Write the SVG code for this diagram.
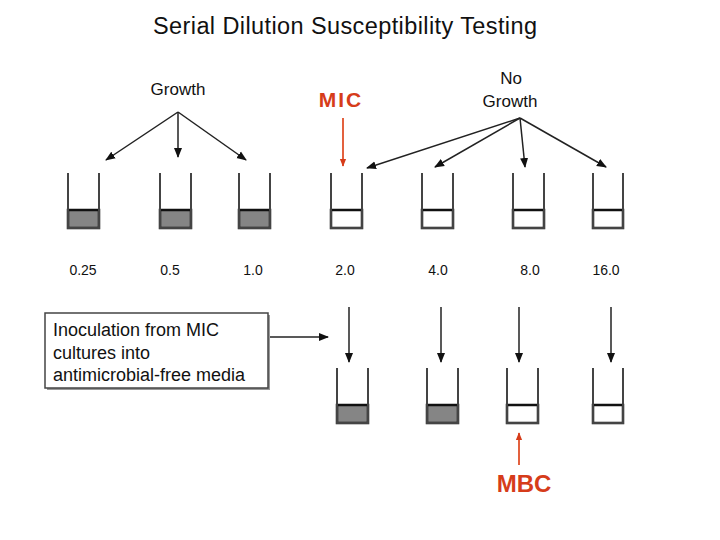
<svg xmlns="http://www.w3.org/2000/svg" width="720" height="540" viewBox="0 0 720 540">
<style>
text{font-family:"Liberation Sans",Arial,sans-serif;fill:#111}
.title{font-size:23.5px}
.lbl{font-size:17px}
.num{font-size:14px}
.red{fill:#d63c1a;font-weight:bold}
.side{fill:none;stroke:#444;stroke-width:2}
.liq{stroke:#111;stroke-width:2.5}
.g{fill:#858585}
.w{fill:#fff}
.arr{stroke:#222;stroke-width:1.5;fill:none;marker-end:url(#ah)}
.arrR{stroke:#e0502a;stroke-width:1.8;fill:none;marker-end:url(#ahR)}
.box{font-size:18px}
</style>
<defs>
<marker id="ah" markerUnits="userSpaceOnUse" markerWidth="10" markerHeight="10" viewBox="0 0 10 10" refX="9" refY="5" orient="auto">
<path d="M0,1 L10,5 L0,9 Z" fill="#111"/>
</marker>
<marker id="ahR" markerUnits="userSpaceOnUse" markerWidth="8" markerHeight="8" viewBox="0 0 10 10" refX="9" refY="5" orient="auto">
<path d="M0,1 L10,5 L0,9 Z" fill="#d63c1a"/>
</marker>
</defs>
<rect width="720" height="540" fill="#fff"/>
<g id="title"><text class="title" x="153" y="34" textLength="384" lengthAdjust="spacing">Serial Dilution Susceptibility Testing</text></g>
<g id="growth"><text class="lbl" x="178" y="95" text-anchor="middle">Growth</text></g>
<g id="nogrowth"><text class="lbl" x="511" y="84" text-anchor="middle">No</text><text class="lbl" x="510" y="107" text-anchor="middle">Growth</text></g>
<g id="mic"><text class="red" x="341" y="107" font-size="21" letter-spacing="2" text-anchor="middle">MIC</text></g>
<g id="mbc"><text class="red" x="524" y="492" font-size="24" text-anchor="middle">MBC</text></g>
<g id="tubes-top">
<g id="t1"><rect class="liq g" x="68" y="210" width="31" height="18"/><path class="side" d="M68,173V228H99V173"/></g>
<g id="t2"><rect class="liq g" x="160" y="210" width="31" height="18"/><path class="side" d="M160,173V228H191V173"/></g>
<g id="t3"><rect class="liq g" x="239" y="210" width="31" height="18"/><path class="side" d="M239,173V228H270V173"/></g>
<g id="t4"><rect class="liq w" x="331" y="210" width="31" height="18"/><path class="side" d="M331,173V228H362V173"/></g>
<g id="t5"><rect class="liq w" x="422" y="210" width="31" height="18"/><path class="side" d="M422,173V228H453V173"/></g>
<g id="t6"><rect class="liq w" x="513" y="210" width="31" height="18"/><path class="side" d="M513,173V228H544V173"/></g>
<g id="t7"><rect class="liq w" x="593" y="210" width="30" height="18"/><path class="side" d="M593,173V228H623V173"/></g>
</g>
<g id="labels">
<text class="num" x="83" y="275" text-anchor="middle">0.25</text>
<text class="num" x="170" y="275" text-anchor="middle">0.5</text>
<text class="num" x="253" y="275" text-anchor="middle">1.0</text>
<text class="num" x="345" y="275" text-anchor="middle">2.0</text>
<text class="num" x="438" y="275" text-anchor="middle">4.0</text>
<text class="num" x="530" y="275" text-anchor="middle">8.0</text>
<text class="num" x="606" y="275" text-anchor="middle">16.0</text>
</g>
<g id="inoc-box">
<rect x="47" y="315" width="223" height="75" fill="#999"/>
<rect x="45" y="313" width="223" height="75" fill="#fff" stroke="#444" stroke-width="1.5"/>
<text class="box" x="53" y="336">Inoculation from MIC</text>
<text class="box" x="53" y="359">cultures into</text>
<text class="box" x="53" y="381">antimicrobial-free media</text>
</g>
<g id="tubes-bottom">
<g id="b1"><rect class="liq g" x="337" y="405" width="31" height="18"/><path class="side" d="M337,368V423H368V368"/></g>
<g id="b2"><rect class="liq g" x="427" y="405" width="31" height="18"/><path class="side" d="M427,368V423H458V368"/></g>
<g id="b3"><rect class="liq w" x="507" y="405" width="31" height="18"/><path class="side" d="M507,368V423H538V368"/></g>
<g id="b4"><rect class="liq w" x="593" y="405" width="30" height="18"/><path class="side" d="M593,368V423H623V368"/></g>
</g>
<g id="connectors">
<line class="arr" x1="178" y1="112" x2="106" y2="160"/>
<line class="arr" x1="178" y1="112" x2="178" y2="157"/>
<line class="arr" x1="178" y1="112" x2="246" y2="160"/>
<line class="arr" x1="520" y1="118" x2="367" y2="168"/>
<line class="arr" x1="520" y1="118" x2="435" y2="167"/>
<line class="arr" x1="520" y1="118" x2="525" y2="167"/>
<line class="arr" x1="520" y1="118" x2="606" y2="167"/>
<line class="arrR" x1="343" y1="118" x2="343" y2="166"/>
<line class="arr" x1="270" y1="337" x2="328" y2="337"/>
<line class="arr" x1="349" y1="307" x2="349" y2="362"/>
<line class="arr" x1="441" y1="307" x2="441" y2="362"/>
<line class="arr" x1="519" y1="307" x2="519" y2="362"/>
<line class="arr" x1="611" y1="307" x2="611" y2="362"/>
<line class="arrR" x1="519" y1="465" x2="519" y2="433"/>
</g>
</svg>
